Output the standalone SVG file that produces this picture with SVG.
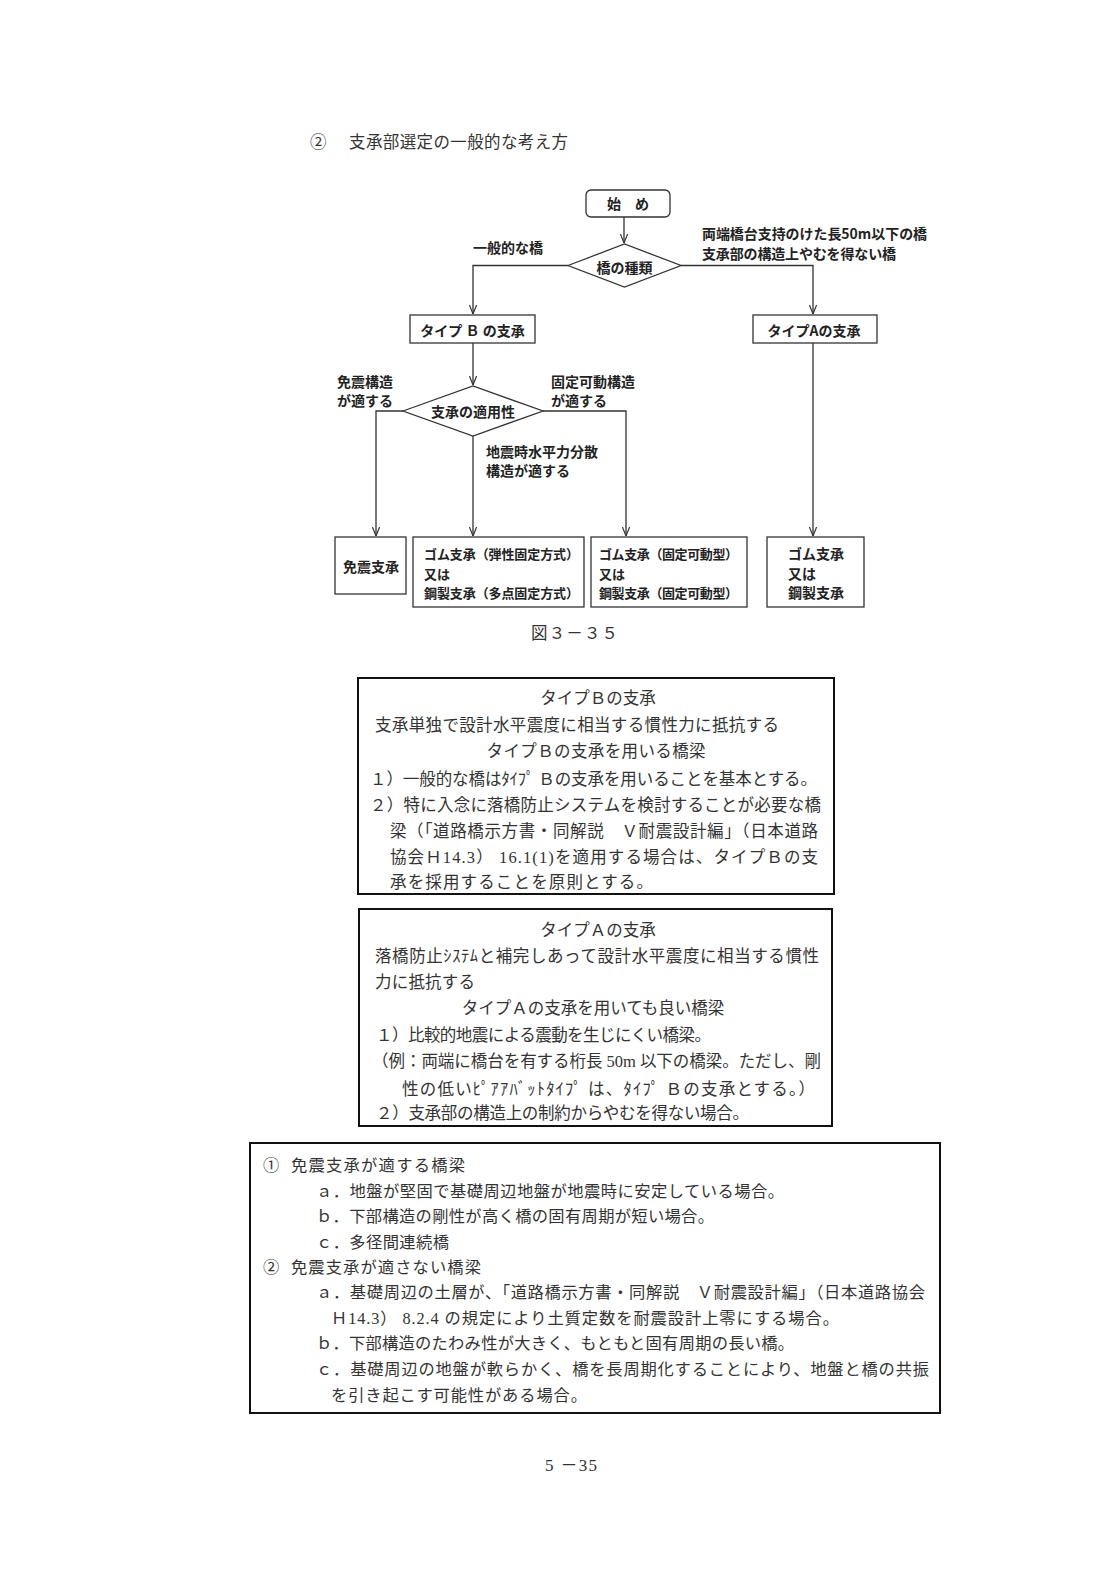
<svg xmlns="http://www.w3.org/2000/svg" width="1116" height="1579" viewBox="0 0 1116 1579">
<style>
.fc{font-family:"Noto Sans CJK JP","Noto Sans",sans-serif;font-weight:bold;font-size:14px;fill:#222}
.fs{font-size:13px}
.lbl{font-family:"Noto Sans CJK JP","Noto Sans",sans-serif;font-weight:bold;font-size:14px;fill:#222}
.nd{fill:#fff;stroke:#333;stroke-width:1.3}
.cn{fill:none;stroke:#333;stroke-width:1.3}
.tx{font-family:"Liberation Serif","Noto Sans CJK JP",serif;font-size:16.5px;fill:#333}
.tx3{font-family:"Liberation Serif","Noto Sans CJK JP",serif;font-size:16.3px;fill:#333}
.bx{fill:none;stroke:#111;stroke-width:2}
.mid{text-anchor:middle}
</style>
<defs>
<marker id="arr" viewBox="0 0 10 10" refX="10" refY="5" markerWidth="9" markerHeight="9" markerUnits="userSpaceOnUse" orient="auto">
<path d="M0,1 L10,5 L0,9" fill="none" stroke="#333" stroke-width="1.3"/>
</marker>
</defs>
<rect width="1116" height="1579" fill="#fff"/>

<text class="tx" x="310" y="148">②<tspan x="349" textLength="219">支承部選定の一般的な考え方</tspan></text>

<g id="connectors">
<path class="cn" d="M624,217 V243" marker-end="url(#arr)"/>
<path class="cn" d="M568,265.5 H473 V314" marker-end="url(#arr)"/>
<path class="cn" d="M681,265.5 H813 V314" marker-end="url(#arr)"/>
<path class="cn" d="M473,343 V385" marker-end="url(#arr)"/>
<path class="cn" d="M403,411 H376 V536" marker-end="url(#arr)"/>
<path class="cn" d="M473,436 V536" marker-end="url(#arr)"/>
<path class="cn" d="M543,411 H626 V536" marker-end="url(#arr)"/>
<path class="cn" d="M813,343 V536" marker-end="url(#arr)"/>
<text class="lbl" x="473" y="252.5">一般的な橋</text>
<text class="lbl" x="702" y="238.5" textLength="225" lengthAdjust="spacingAndGlyphs">両端橋台支持のけた長50m以下の橋</text>
<text class="lbl" x="702" y="258.5" textLength="194">支承部の構造上やむを得ない橋</text>
<text class="lbl" x="337" y="386.5">免震構造</text>
<text class="lbl" x="337" y="405.5">が適する</text>
<text class="lbl" x="551" y="386.5">固定可動構造</text>
<text class="lbl" x="551" y="405.5">が適する</text>
<text class="lbl" x="486" y="456.5">地震時水平力分散</text>
<text class="lbl" x="486" y="475.5">構造が適する</text>
</g>

<g id="start">
<rect class="nd" x="586" y="190" width="84" height="27" rx="5"/>
<text class="fc mid" x="628" y="208.5">始　め</text>
</g>
<g id="kind">
<polygon class="nd" points="568,265.5 624.5,244 681,265.5 624.5,287"/>
<text class="fc mid" x="624.5" y="272.5">橋の種類</text>
</g>
<g id="typeB">
<rect class="nd" x="410" y="315" width="125" height="28"/>
<text class="fc mid" x="472.5" y="335.5">タイプ Ｂ の支承</text>
</g>
<g id="typeA">
<rect class="nd" x="753" y="315" width="124" height="28"/>
<text class="fc mid" x="814" y="335.5">タイプAの支承</text>
</g>
<g id="suit">
<polygon class="nd" points="403,411 473,386 543,411 473,436"/>
<text class="fc mid" x="473" y="416.5">支承の適用性</text>
</g>
<g id="menshin">
<rect class="nd" x="335" y="537" width="71" height="57"/>
<text class="fc mid" x="371" y="571.5">免震支承</text>
</g>
<g id="rubber1">
<rect class="nd" x="413" y="537" width="171" height="70"/>
<text class="fc fs" x="424" y="559" textLength="155">ゴム支承（弾性固定方式）</text>
<text class="fc fs" x="424" y="578.5">又は</text>
<text class="fc fs" x="424" y="598" textLength="155">鋼製支承（多点固定方式）</text>
</g>
<g id="rubber2">
<rect class="nd" x="591" y="537" width="156" height="70"/>
<text class="fc fs" x="599" y="559" textLength="139">ゴム支承（固定可動型）</text>
<text class="fc fs" x="599" y="578.5">又は</text>
<text class="fc fs" x="599" y="598" textLength="139">鋼製支承（固定可動型）</text>
</g>
<g id="rubber3">
<rect class="nd" x="767" y="537" width="97" height="70"/>
<text class="fc" x="788" y="559">ゴム支承</text>
<text class="fc" x="788" y="578.5">又は</text>
<text class="fc" x="788" y="598">鋼製支承</text>
</g>

<text class="tx" x="531" y="639" textLength="87">図３－３５</text>

<g id="boxB">
<rect class="bx" x="358" y="678" width="476" height="216"/>
<text class="tx mid" x="598" y="704">タイプＢの支承</text>
<text class="tx" x="375" y="731" textLength="404">支承単独で設計水平震度に相当する慣性力に抵抗する</text>
<text class="tx mid" x="596" y="757" textLength="219">タイプＢの支承を用いる橋梁</text>
<text class="tx" x="370" y="785" textLength="447">１）一般的な橋はﾀｲﾌﾟ Ｂの支承を用いることを基本とする。</text>
<text class="tx" x="370" y="811" textLength="451">２）特に入念に落橋防止システムを検討することが必要な橋</text>
<text class="tx" x="390" y="837" textLength="428">梁（「道路橋示方書・同解説　Ｖ耐震設計編」（日本道路</text>
<text class="tx" x="390" y="863" textLength="428">協会Ｈ14.3） 16.1(1)を適用する場合は、タイプＢの支</text>
<text class="tx" x="390" y="888" textLength="263">承を採用することを原則とする。</text>
</g>

<g id="boxA">
<rect class="bx" x="359" y="909" width="473" height="217"/>
<text class="tx mid" x="598" y="936">タイプＡの支承</text>
<text class="tx" x="375" y="962" textLength="444">落橋防止ｼｽﾃﾑと補完しあって設計水平震度に相当する慣性</text>
<text class="tx" x="375" y="988" textLength="100">力に抵抗する</text>
<text class="tx mid" x="593" y="1014">タイプＡの支承を用いても良い橋梁</text>
<text class="tx" x="376" y="1041" textLength="335">１）比較的地震による震動を生じにくい橋梁。</text>
<text class="tx" x="372" y="1067" textLength="449">（例：両端に橋台を有する桁長 50m 以下の橋梁。ただし、剛</text>
<text class="tx" x="402" y="1095" textLength="413">性の低いﾋﾟｱｱﾊﾞｯﾄﾀｲﾌﾟ は、ﾀｲﾌﾟ Ｂの支承とする。）</text>
<text class="tx" x="376" y="1119" textLength="373">２）支承部の構造上の制約からやむを得ない場合。</text>
</g>

<g id="boxC">
<rect class="bx" x="250" y="1143" width="690" height="270"/>
<text class="tx3" x="263" y="1171">①<tspan x="291" textLength="174">免震支承が適する橋梁</tspan></text>
<text class="tx3" x="316" y="1197" textLength="468">ａ．地盤が堅固で基礎周辺地盤が地震時に安定している場合。</text>
<text class="tx3" x="316" y="1222" textLength="398">ｂ．下部構造の剛性が高く橋の固有周期が短い場合。</text>
<text class="tx3" x="316" y="1248" textLength="133">ｃ．多径間連続橋</text>
<text class="tx3" x="263" y="1273">②<tspan x="291" textLength="190">免震支承が適さない橋梁</tspan></text>
<text class="tx3" x="316" y="1298" textLength="609">ａ．基礎周辺の土層が、「道路橋示方書・同解説　Ｖ耐震設計編」（日本道路協会</text>
<text class="tx3" x="331" y="1324" textLength="508">Ｈ14.3） 8.2.4 の規定により土質定数を耐震設計上零にする場合。</text>
<text class="tx3" x="316" y="1349" textLength="478">ｂ．下部構造のたわみ性が大きく、もともと固有周期の長い橋。</text>
<text class="tx3" x="316" y="1375" textLength="613">ｃ．基礎周辺の地盤が軟らかく、橋を長周期化することにより、地盤と橋の共振</text>
<text class="tx3" x="331" y="1401" textLength="256">を引き起こす可能性がある場合。</text>
</g>

<text class="tx" x="545" y="1471" textLength="52" style="font-size:17px">5 －35</text>
</svg>
